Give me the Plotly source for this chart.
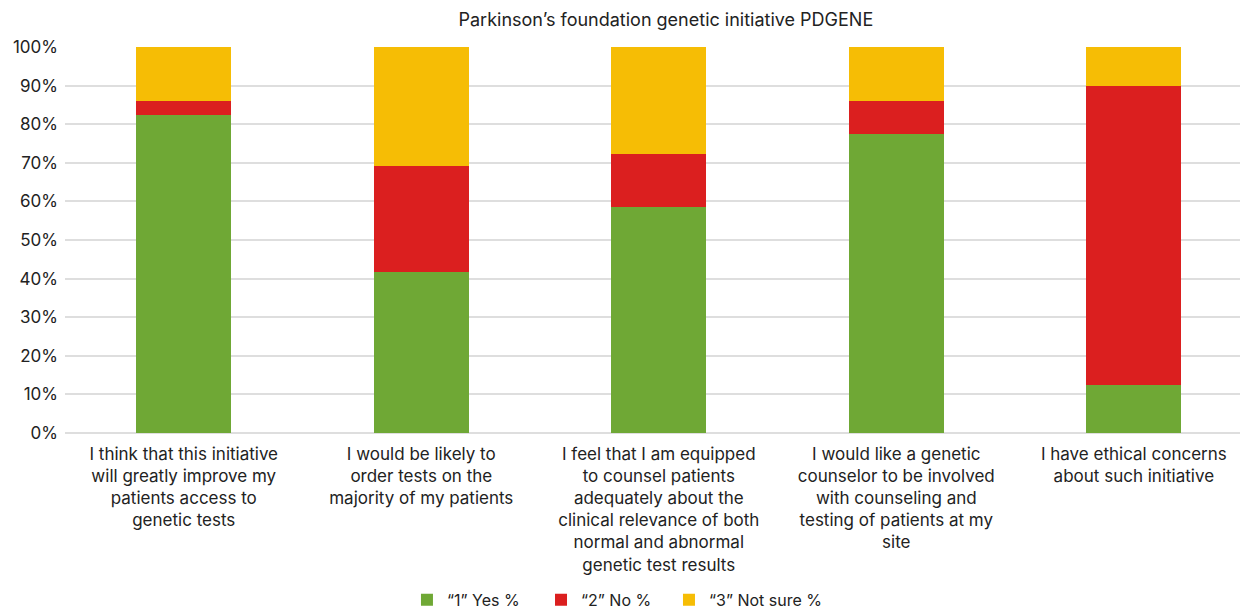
import plotly.graph_objects as go

categories = [
    "I think that this initiative<br>will greatly improve my<br>patients access to<br>genetic tests",
    "I would be likely to<br>order tests on the<br>majority of my patients",
    "I feel that I am equipped<br>to counsel patients<br>adequately about the<br>clinical relevance of both<br>normal and abnormal<br>genetic test results",
    "I would like a genetic<br>counselor to be involved<br>with counseling and<br>testing of patients at my<br>site",
    "I have ethical concerns<br>about such initiative",
]
yes_pct = [82.3, 41.6, 58.6, 77.4, 12.4]
no_pct = [3.8, 27.7, 13.7, 8.7, 77.5]
notsure_pct = [13.9, 30.7, 27.7, 13.9, 10.1]

series = [
    ("\u201c1\u201d Yes %", yes_pct, "#6fa835"),
    ("\u201c2\u201d No %", no_pct, "#db1f1f"),
    ("\u201c3\u201d Not sure %", notsure_pct, "#f6bd05"),
]
legend_ids = ["legend", "legend2", "legend3"]
legend_x = [0.3282, 0.4363, 0.5395]

FONT = "Inter, Liberation Sans, Arial, sans-serif"

fig = go.Figure()
for (name, vals, color), lid in zip(series, legend_ids):
    fig.add_trace(go.Bar(x=categories, y=vals, name=name, marker_color=color,
                         marker_line_width=0, legend=lid))

legend_common = dict(orientation="h", xanchor="left", xref="container",
                     y=0.015, yanchor="middle", yref="container",
                     font=dict(size=16, color="#222222"), itemwidth=30,
                     bgcolor="rgba(0,0,0,0)")

fig.update_layout(
    barmode="stack",
    bargap=0.6,
    width=1240, height=609,
    margin=dict(l=65, r=0, t=47, b=176),
    paper_bgcolor="white", plot_bgcolor="white",
    font=dict(family=FONT, size=17, color="#222222"),
    title=dict(text="Parkinson\u2019s foundation genetic initiative PDGENE",
               x=0.537, xanchor="center", xref="container", y=0.967, yanchor="middle",
               font=dict(size=18, color="#222222")),
    showlegend=True,
    legend=dict(x=legend_x[0], **legend_common),
    legend2=dict(x=legend_x[1], **legend_common),
    legend3=dict(x=legend_x[2], **legend_common),
    xaxis=dict(type="category", range=[-0.5, 4.447], showgrid=False, showline=False,
               ticks="", tickfont=dict(size=17), ticklabelstandoff=9),
    yaxis=dict(range=[0, 100], dtick=10, ticksuffix="%", showgrid=True,
               gridcolor="#dedede", gridwidth=1.5, zeroline=True, zerolinecolor="#dedede",
               zerolinewidth=1.5, showline=False, tickfont=dict(size=17), ticks="",
               ticklabelstandoff=6),
)

fig.write_html("out.html", config={"displayModeBar": False},
               post_script="document.body.style.margin='0px';")
